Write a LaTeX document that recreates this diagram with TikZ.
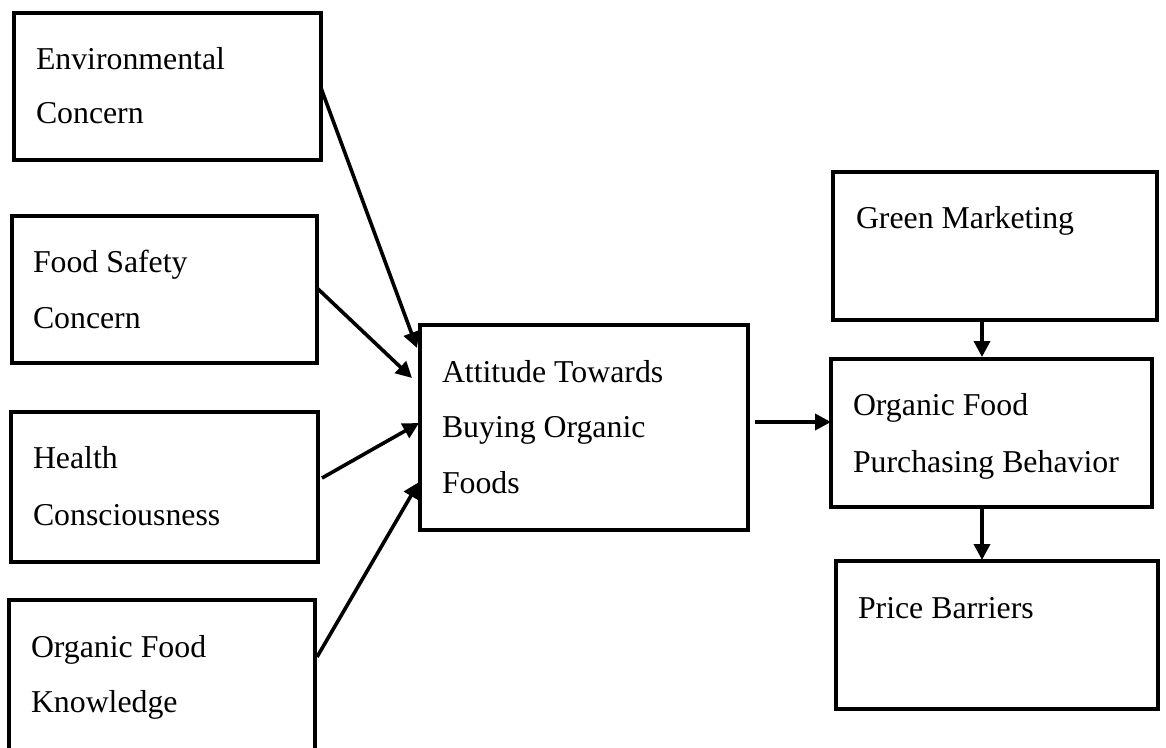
\documentclass[tikz,border=0pt]{standalone}
\usepackage{fontspec}
\setmainfont{Liberation Serif}
\usetikzlibrary{arrows.meta,calc}
\begin{document}
\begin{tikzpicture}[x=1pt,y=-1pt,
  box/.style={draw, line width=4pt, inner sep=0pt, outer sep=0pt},
  txt/.style={anchor=base west, inner sep=0pt, outer sep=0pt,
              font=\fontsize{31.8}{38}\selectfont},
  link/.style={line width=3.6pt, -{Triangle[length=16pt,width=16pt]}}]
\useasboundingbox (0,0) rectangle (1166,747);
\clip (0,0) rectangle (1166,747);

% antecedent boxes (left column)
\node[box, minimum width=307pt, minimum height=147pt] (env)    at (167.5,86.5) {};
\node[box, minimum width=305pt, minimum height=147pt] (food)   at (164.5,289.5) {};
\node[box, minimum width=307pt, minimum height=150pt] (health) at (164.5,487) {};
\node[box, minimum width=306pt, minimum height=152pt] (know)   at (162,676) {};

% attitude box (centre)
\node[box, minimum width=328pt, minimum height=205pt] (att)    at (584,427.5) {};

% right column
\node[box, minimum width=324pt, minimum height=148pt] (green)  at (995,246) {};
\node[box, minimum width=321pt, minimum height=148pt] (purch)  at (991.5,433) {};
\node[box, minimum width=322pt, minimum height=148pt] (price)  at (997,635) {};

% box texts
\node[txt] (env1) at ([shift={(22,56)}]env.north west) {Environmental};
\node[txt] (env2) at ([shift={(22,110)}]env.north west) {Concern};
\node[txt] (food1) at ([shift={(21,56)}]food.north west) {Food Safety};
\node[txt] (food2) at ([shift={(21,112)}]food.north west) {Concern};
\node[txt] (health1) at ([shift={(22,56)}]health.north west) {Health};
\node[txt] (health2) at ([shift={(22,113)}]health.north west) {Consciousness};
\node[txt] (know1) at ([shift={(22,57)}]know.north west) {Organic Food};
\node[txt] (know2) at ([shift={(22,112)}]know.north west) {Knowledge};
\node[txt] (att1) at ([shift={(22,57)}]att.north west) {Attitude Towards};
\node[txt] (att2) at ([shift={(22,112)}]att.north west) {Buying Organic};
\node[txt] (att3) at ([shift={(22,168)}]att.north west) {Foods};
\node[txt] (green1) at ([shift={(23,56)}]green.north west) {Green Marketing};
\node[txt] (purch1) at ([shift={(22,56)}]purch.north west) {Organic Food};
\node[txt] (purch2) at ([shift={(22,113)}]purch.north west) {Purchasing Behavior};
\node[txt] (price1) at ([shift={(22,57)}]price.north west) {Price Barriers};

% connectors
\draw[link] ([shift={(0,75)}]env.north east)    -- ([shift={(-3,23)}]att.north west);
\draw[link] ([shift={(0,72)}]food.north east)   -- ([shift={(-8,53)}]att.north west);
\draw[link] ([shift={(4,66)}]health.north east) -- ([shift={(-1,98)}]att.north west);
\draw[link] ([shift={(2,57)}]know.north east)   -- ([shift={(-1,157)}]att.north west);
\draw[link] ([shift={(7,97)}]att.north east)    -- ([shift={(0,63)}]purch.north west);
\draw[link] ([shift={(149,-1)}]green.south west) -- ([shift={(151,-2)}]purch.north west);
\draw[link] ([shift={(151,0)}]purch.south west)  -- ([shift={(146,-1)}]price.north west);
\end{tikzpicture}
\end{document}
